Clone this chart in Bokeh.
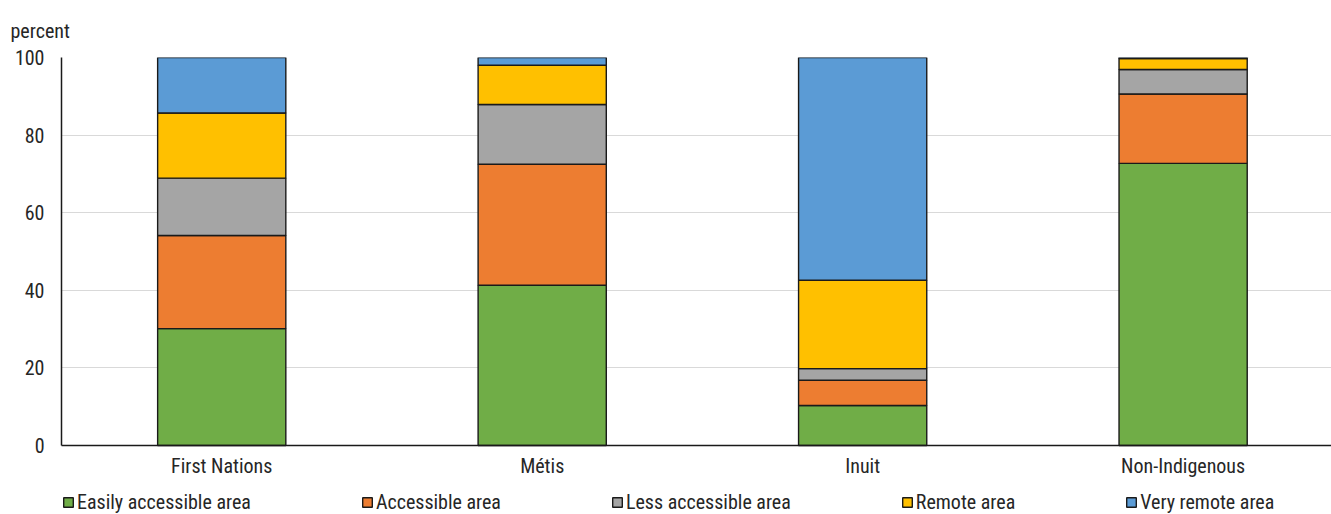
from bokeh.plotting import figure
from bokeh.models import (ColumnDataSource, Range1d, FixedTicker, Legend,
                          LegendItem, Grid)
from bokeh.core.properties import value
from bokeh.embed import file_html
from bokeh.resources import INLINE

# ---- data (percent) ----
categories = ["First Nations", "Métis", "Inuit", "Non-Indigenous"]
series = ["Easily accessible area", "Accessible area", "Less accessible area",
          "Remote area", "Very remote area"]
easily_accessible = [30.1, 41.3, 10.3, 72.7]
accessible = [24.0, 31.2, 6.5, 17.9]
less_accessible = [14.8, 15.4, 3.0, 6.3]
remote = [16.8, 10.1, 22.8, 2.8]
very_remote = [14.3, 2.0, 57.4, 0.3]
colors = ["#70AD47", "#ED7D31", "#A5A5A5", "#FFC000", "#5B9BD5"]
y_ticks = [0, 20, 40, 60, 80, 100]

FONT = "'Liberation Sans Narrow', 'Roboto Condensed', 'DejaVu Sans Condensed', 'Arial Narrow', sans-serif"
TXT = "#262626"
LINE = "#1a1a1a"

keys = ["s0", "s1", "s2", "s3", "s4"]
values = [easily_accessible, accessible, less_accessible, remote, very_remote]
x_pos = [i + 0.5 for i in range(len(categories))]
src = ColumnDataSource(dict(x=x_pos, **{k: v for k, v in zip(keys, values)}))

# the plot area extends below 0 to hold category labels and the legend
p = figure(frame_width=1270, frame_height=457,
           x_range=Range1d(0, 3.963), y_range=Range1d(-17.8, 100),
           x_axis_location=None,
           output_backend="svg", toolbar_location=None,
           min_border_left=61, min_border_right=0,
           min_border_top=57, min_border_bottom=0)
p.outline_line_color = None

# title used as the "percent" unit label
p.title.text = "percent"
p.title.align = "left"
p.title.text_font = FONT
p.title.text_font_size = "20px"
p.title.text_font_style = "normal"
p.title.text_color = TXT
p.title.offset = -51
p.title.standoff = 30

rs = p.vbar_stack(keys, x="x", width=0.4, fill_color=colors,
                  line_color=LINE, line_width=1.4, source=src)

# y axis (line only over 0-100)
ax = p.yaxis[0]
ax.axis_label = None
ax.ticker = FixedTicker(ticks=y_ticks)
ax.bounds = (y_ticks[0], y_ticks[-1])
ax.major_tick_line_color = None
ax.minor_tick_line_color = None
ax.major_tick_out = 0
ax.major_tick_in = 0
ax.minor_tick_out = 0
ax.axis_line_color = LINE
ax.axis_line_width = 1.5
ax.major_label_standoff = 17
ax.major_label_text_font = FONT
ax.major_label_text_font_size = "20px"
ax.major_label_text_color = TXT

p.xgrid.visible = False
p.ygrid.ticker = FixedTicker(ticks=y_ticks[1:-1])
p.ygrid.grid_line_color = "#D9D9D9"
p.ygrid.grid_line_width = 1
# dark lines at 0 (category axis) and 100 (top of plot area)
p.add_layout(Grid(dimension=1, ticker=FixedTicker(ticks=[y_ticks[0], y_ticks[-1]]),
                  grid_line_color=LINE, grid_line_width=1.5, level="overlay"))

# category labels under the baseline
lab_src = ColumnDataSource(dict(x=x_pos, y=[y_ticks[0]] * len(categories),
                                label=categories))
p.text(x="x", y="y", text="label", source=lab_src, text_align="center",
       text_baseline="middle", y_offset=21, text_font=value(FONT),
       text_font_size="20px", text_color=TXT)

items = [LegendItem(label=s, renderers=[r]) for s, r in zip(series, rs)]
legend = Legend(items=items, orientation="horizontal", location=(1, 0),
                spacing=110, label_standoff=3, glyph_width=12, glyph_height=12,
                padding=0, margin=0, border_line_color=None,
                background_fill_alpha=0, label_text_font=FONT,
                label_text_font_size="20px", label_text_color=TXT)
p.add_layout(legend)

open("out.html", "w").write(file_html(p, INLINE))
